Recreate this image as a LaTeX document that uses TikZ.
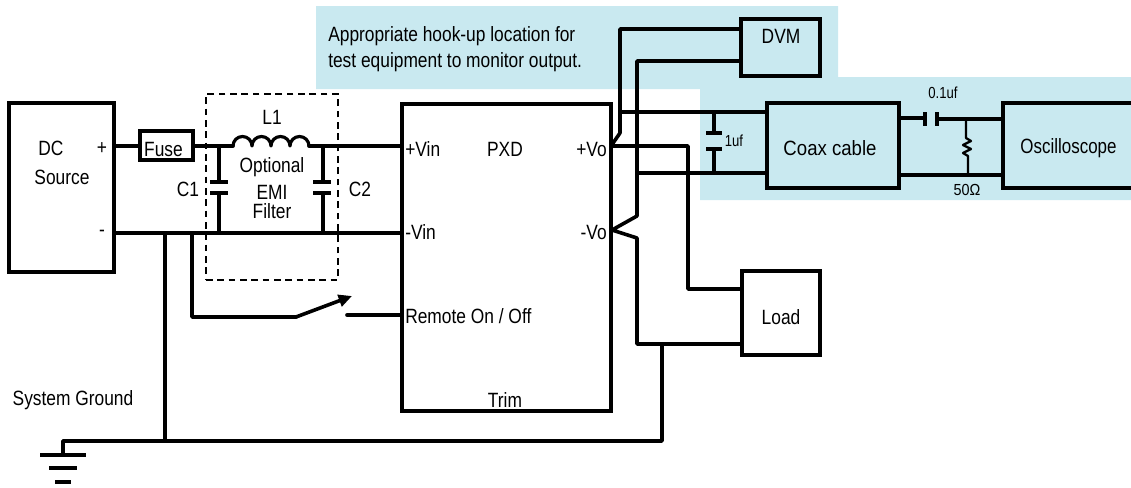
\documentclass[tikz,border=0pt]{standalone}
\usepackage{fontspec}
\setmainfont{Liberation Sans}
\usetikzlibrary{arrows.meta}
\definecolor{panel}{HTML}{C9E9F0}
\newcommand{\nar}[1]{\scalebox{0.84}[1]{#1}}
\newcommand{\narr}[1]{\scalebox{0.82}[1]{#1}}
\tikzset{
  x=0.75pt,y=-0.75pt,
  wire/.style={line width=2.7pt,line join=round,line cap=round},
  thinwire/.style={line width=2.4pt,line join=round,line cap=round},
  stem/.style={line width=2.3pt,line join=round},
  boxed/.style={draw,line width=2.6pt,inner sep=0pt,outer sep=0pt},
  blank/.style={inner sep=0pt,outer sep=0pt},
  lbl/.style={inner sep=0pt,font=\fontsize{15.5}{18}\selectfont},
  small/.style={inner sep=0pt,font=\fontsize{12}{14}\selectfont},
  plate/.style={line width=2.3pt},
}
\newcommand{\boxat}[6]{\node[#6,minimum width={(#4-#2)*0.75pt},minimum height={(#5-#3)*0.75pt}] (#1) at ({(#2+#4)/2},{(#3+#5)/2}) {};}
\begin{document}
\begin{tikzpicture}
\useasboundingbox (0,0) rectangle (1131,487);
\fill[panel] (316,6) -- (838,6) -- (838,77) -- (1131,77) -- (1131,200) -- (700,200) -- (700,89) -- (316,89) -- cycle;

\boxat{dc}{9}{103}{114}{272}{boxed}
\boxat{fuse}{140}{131}{193}{160}{boxed}
\boxat{pxd}{402}{104}{611}{411}{boxed}
\boxat{dvm}{741}{19}{820}{76}{boxed}
\boxat{load}{742}{271}{820}{355}{boxed}
\boxat{coax}{767}{103}{899}{188}{boxed}
\boxat{scope}{1003}{103}{1131}{188}{blank}
\draw[line width=2.6pt] (scope.north east) -- (scope.north west) -- (scope.south west) -- (scope.south east);

\node[lbl] (tfuse) at (163.5,149) {\nar{Fuse}};
\node[lbl] (tcoax) at (830,148) {\scalebox{0.9}[1]{Coax cable}};
\node[lbl] (tscope) at (1068.5,148) {\narr{Oscilloscope}};
\node[lbl] (tdc) at (51,148) {\nar{DC}};
\node[lbl] (tsrc) at (62,177) {\nar{Source}};
\node[lbl] (tplus) at (102,149) {\nar{+}};
\node[lbl] (tminus) at (102,233) {\nar{-}};
\node[lbl] (tl1) at (272,117) {\nar{L1}};
\node[lbl] (tc1) at (188,189) {\nar{C1}};
\node[lbl] (tc2) at (360,189) {\nar{C2}};
\node[lbl] (topt) at (272,167) {\nar{Optional}};
\node[lbl] (temi) at (272,192) {\nar{EMI}};
\node[lbl] (tfil) at (272,211) {\nar{Filter}};
\node[lbl,anchor=west] (tvin) at (405,149) {\nar{+Vin}};
\node[lbl] (tpxd) at (505,149) {\nar{PXD}};
\node[lbl,anchor=east] (tvo) at (607,149) {\nar{+Vo}};
\node[lbl,anchor=west] (tnvin) at (405,232) {\nar{-Vin}};
\node[lbl,anchor=east] (tnvo) at (607,232) {\nar{-Vo}};
\node[lbl,anchor=west] (trem) at (405,316) {\nar{Remote On / Off}};
\node[lbl] (ttrim) at (505,400) {\nar{Trim}};
\node[lbl] (tsys) at (73,400) {\nar{System Ground}};
\node[lbl] (tdvm) at (781,36) {\nar{DVM}};
\node[lbl] (tload) at (781,317) {\nar{Load}};
\node[lbl,anchor=west] (tnote1) at (328,36) {\nar{Appropriate hook-up location for}};
\node[lbl,anchor=west] (tnote2) at (328,62) {\nar{test equipment to monitor output.}};
\node[small] (t1uf) at (734,141) {\narr{1uf}};
\node[small] (t01uf) at (943,93) {\narr{0.1uf}};
\node[small] (t50) at (967,190) {\scalebox{0.9}[1]{50Ω}};

% EMI filter outline
\node[draw,line width=2.1pt,dash pattern=on 5pt off 3.5pt,inner sep=0pt,minimum width={132*0.75pt},minimum height={186*0.75pt}] (emi) at (272,187) {};

% junction coordinates
\coordinate (cojL) at (233,146);
\coordinate (cojR) at (309,146);
\coordinate (c1top) at (219,146);
\coordinate (c1bot) at (219,233);
\coordinate (c2top) at (323,146);
\coordinate (c2bot) at (323,233);
\coordinate (swa) at (192,233);
\coordinate (gnd) at (165,233);
\coordinate (vop) at (611,146);
\coordinate (vom) at (612,230);
\coordinate (gndbus) at (165,441);
\coordinate (loadneg) at (662,344);

% input wires
\draw[wire] (dc.east |- cojL) -- (fuse.west |- cojL);
\draw[wire] (fuse.east |- cojL) -- (cojL);
\draw[wire] (cojR) -- (pxd.west |- cojR);
\draw[wire] (dc.east |- c1bot) -- (pxd.west |- c1bot);
\draw[thinwire] (cojL) arc[start angle=180,end angle=360,radius=9.5]
  arc[start angle=180,end angle=360,radius=9.5]
  arc[start angle=180,end angle=360,radius=9.5]
  arc[start angle=180,end angle=360,radius=9.5];

% C1, C2
\draw[stem] (c1top) -- (219,182);
\draw[plate] (210,182) -- (228,182);
\draw[plate] (210,193) -- (228,193);
\draw[stem] (219,193) -- (c1bot);
\draw[stem] (c2top) -- (323,182);
\draw[plate] (313,182) -- (331,182);
\draw[plate] (313,193) -- (331,193);
\draw[stem] (323,193) -- (c2bot);

% switch
\coordinate (swr) at (347,315);
\draw[wire] (swa) -- (192,317) -- (296,317);
\draw[wire,-{Triangle[length=10pt,width=9pt]}] (296,317) -- (352,296);
\draw[wire] (swr) -- (pxd.west |- swr);

% ground
\draw[wire] (gnd) -- (gndbus);
\draw[wire] (63,455) -- (63,441) -- (gndbus) -- (662,441) -- (loadneg);
\draw[line width=3pt] (40,455) -- (86,455);
\draw[line width=3pt] (49,468) -- (77,468);
\draw[line width=3pt] (55,482) -- (71,482);

% output wires
\draw[wire] (vop) -- (620,133) -- (620,29) -- (dvm.west |- 620,29);
\draw[wire] (dvm.west |- 637,61) -- (637,61) -- (637,216) -- (vom) -- (637,238) -- (637,344) -- (load.west |- 637,344);
\draw[wire] (vop) -- (688,146) -- (688,289) -- (load.west |- 688,289);
\draw[thinwire] (620,112) -- (coax.west |- 620,112);
\draw[wire] (637,173) -- (coax.west |- 637,173);

% 1uf
\draw[wire] (714,112) -- (714,133);
\draw[plate] (706,133) -- (722,133);
\draw[plate] (706,149) -- (722,149);
\draw[wire] (714,149) -- (714,173);

% 0.1uf and resistor
\draw[wire] (coax.east |- 925,118) -- (925,118);
\draw[line width=2.6pt] (925,112) -- (925,126);
\draw[line width=2.6pt] (937,112) -- (937,126);
\draw[wire] (937,119) -- (scope.west |- 937,119);
\draw[thinwire] (coax.east |- 967,175) -- (scope.west |- 967,175);
\draw[line width=1.7pt,line join=round] (966,119) -- (966,138) -- (971,141) -- (963,145) -- (971,149) -- (963,153) -- (968,156) -- (968,175);
\end{tikzpicture}
\end{document}
